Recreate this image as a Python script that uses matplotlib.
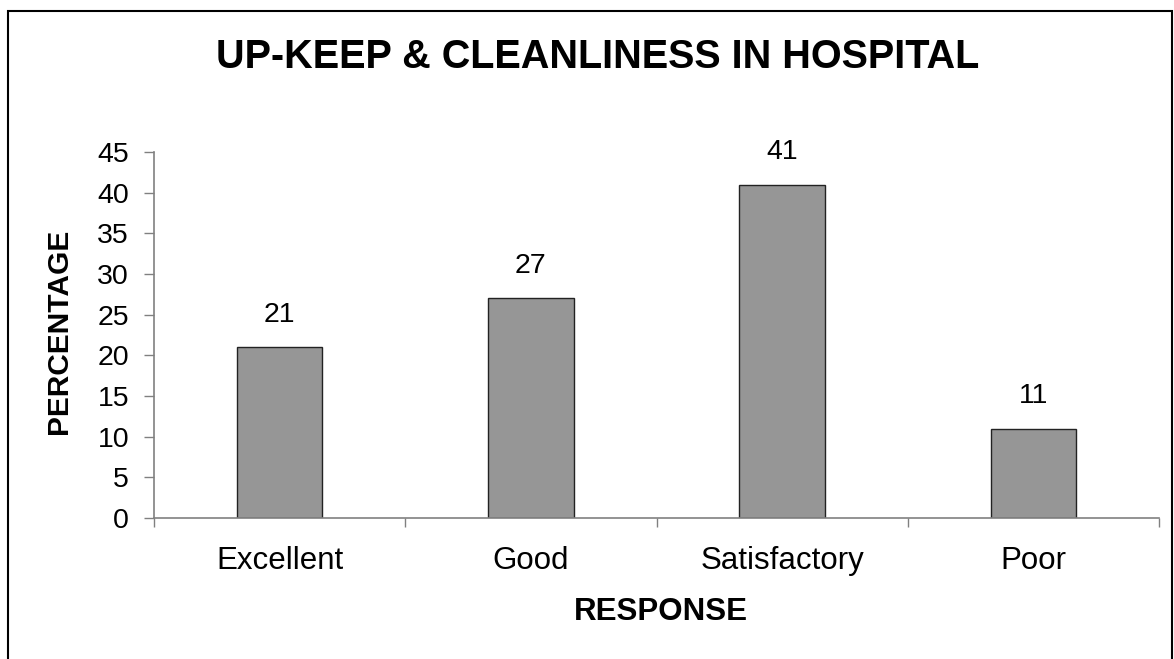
import matplotlib
matplotlib.use("Agg")
import matplotlib.pyplot as plt
from matplotlib.patches import Rectangle

plt.rcParams['font.family'] = ['Liberation Sans', 'DejaVu Sans']

# 数据
categories = ["Excellent", "Good", "Satisfactory", "Poor"]
percentages = [21, 27, 41, 11]
y_ticks = [0, 5, 10, 15, 20, 25, 30, 35, 40, 45]

fig = plt.figure(figsize=(11.74, 6.59), dpi=100)
ax = fig.add_axes([0.1312, 0.2140, 0.8560, 0.5553])

x = list(range(len(categories)))
bars = ax.bar(x, percentages, width=0.34, color="#969696",
              edgecolor="#222222", linewidth=1.0)

# 柱子上方的数值
for xi, v in zip(x, percentages):
    ax.annotate(str(v), (xi, v), xytext=(0, 14), textcoords="offset points",
                ha="center", va="bottom", fontsize=20.5)

ax.set_xlim(-0.5, len(categories) - 0.5)
ax.set_ylim(0, 45)
ax.set_yticks(y_ticks)
ax.tick_params(axis="y", labelsize=20.5, length=7, width=1, color="#808080", pad=11)

# x轴刻度在类别之间
ax.set_xticks(x)
ax.set_xticklabels(categories, fontsize=22.5)
ax.tick_params(axis="x", length=0, pad=20)
ax.set_xticks([i - 0.5 for i in range(len(categories) + 1)], minor=True)
ax.tick_params(axis="x", which="minor", length=6.5, width=1, color="#808080")

for s in ["top", "right"]:
    ax.spines[s].set_visible(False)
for s in ["left", "bottom"]:
    ax.spines[s].set_color("#808080")
    ax.spines[s].set_linewidth(1.2)

ax.set_ylabel("PERCENTAGE", fontsize=21.5, fontweight="bold")
ax.yaxis.set_label_coords(-0.0806, 0.51)
ax.set_xlabel("RESPONSE", fontsize=22.5, fontweight="bold")
ax.xaxis.set_label_coords(0.504, -0.215)

fig.text(0.509, 0.913, "UP-KEEP & CLEANLINESS IN HOSPITAL", ha="center",
         va="center", fontsize=28.5, fontweight="bold")

# 外边框
frame = Rectangle((8 / 1174, -0.05), 1164 / 1174, 1.05 - 11 / 659,
                  transform=fig.transFigure, fill=False, edgecolor="black",
                  linewidth=1.5, clip_on=False)
fig.patches.append(frame)

fig.savefig("out.png", dpi=100)
